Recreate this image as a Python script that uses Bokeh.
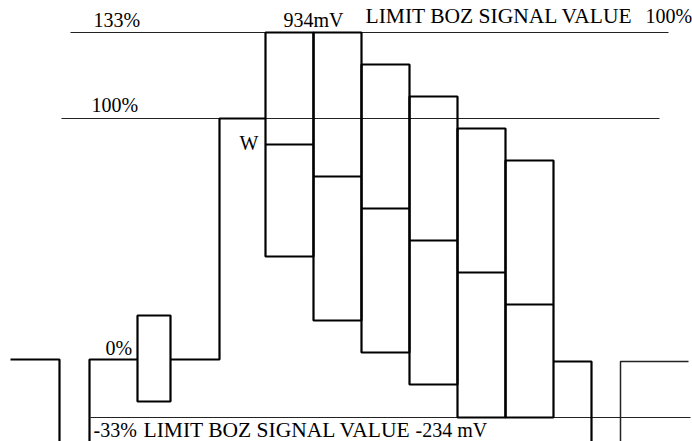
from bokeh.plotting import figure
from bokeh.models import Range1d, ColumnDataSource
from bokeh.core.properties import value
from bokeh.embed import file_html
from bokeh.resources import INLINE

# ---- data (x: time position, y: signal level) ----
box_edges = [265, 313, 361, 409, 457, 505, 553]
box_top = [409, 409, 377, 345, 313, 281]
box_mid = [297, 265, 233, 201, 169, 137]
box_bottom = [185, 121, 89, 57, 24, 24]

lvl_133 = 409
lvl_100 = 323
lvl_0 = 82
lvl_m33 = 24
lvl_low = 0

# small pulse box
pulse_x = [137, 170]
pulse_y = [40, 126]

# waveform segments (thick)
wave_xs = [[10, 59, 59], [89, 89, 137], [170, 219, 219, 265], [553, 591, 591]]
wave_ys = [[lvl_0, lvl_0, lvl_low], [lvl_low, lvl_0, lvl_0],
           [lvl_0, lvl_0, lvl_100, lvl_100], [80, 80, lvl_low]]
# thin tail
tail_x = [620, 620, 688]
tail_y = [lvl_low, 80, 80]

# reference lines: (x start, x end, level)
ref_x0 = [70, 61, 90]
ref_x1 = [668, 659, 690]
ref_lvl = [lvl_133, lvl_100, lvl_m33]

# labels
small_labels = ["133%", "934mV", "100%", "100%", "W", "0%", "-33%", "-234 mV"]
small_x = [93, 283, 645, 91, 239, 105, 93, 415]
small_y = [lvl_133 + 4, lvl_133 + 4, lvl_133 + 8, lvl_100 + 5, 290, lvl_0 + 3, 3, 3]
big_labels = ["LIMIT BOZ SIGNAL VALUE", "LIMIT BOZ SIGNAL VALUE"]
big_x = [365, 143]
big_y = [lvl_133 + 8, 3]

TEXT_SHIFT = 9  # compensates renderer baseline offset

p = figure(width=692, height=441, output_backend="svg", toolbar_location=None,
           x_range=Range1d(0, 692), y_range=Range1d(0, 441), min_border=0,
           background_fill_color="white", border_fill_color="white")
p.outline_line_color = None
p.axis.visible = False
p.xgrid.visible = False
p.ygrid.visible = False

# reference lines
p.segment(x0=ref_x0, x1=ref_x1, y0=ref_lvl, y1=ref_lvl, line_color="#222222", line_width=1.2)

# waveform
p.multi_line(xs=wave_xs, ys=wave_ys, line_color="black", line_width=2.2)
p.line(tail_x, tail_y, line_color="#222222", line_width=1.5)

# pulse box
p.quad(left=[pulse_x[0]], right=[pulse_x[1]], bottom=[pulse_y[0]], top=[pulse_y[1]],
       fill_color=None, line_color="black", line_width=2.2)

# big boxes
src = ColumnDataSource(dict(left=box_edges[:-1], right=box_edges[1:], top=box_top,
                            bottom=box_bottom, mid=box_mid))
p.quad(left="left", right="right", top="top", bottom="bottom", source=src,
       fill_color=None, line_color="black", line_width=2.2)
p.segment(x0="left", x1="right", y0="mid", y1="mid", source=src,
          line_color="black", line_width=2.2)

# labels
p.text(x=small_x, y=[v + TEXT_SHIFT for v in small_y], text=small_labels,
       text_font=value("Liberation Serif"),
       text_font_size=value("20px"), text_color="black", text_baseline="alphabetic",
       text_align="left")
p.text(x=big_x, y=[v + TEXT_SHIFT for v in big_y], text=big_labels,
       text_font=value("Liberation Serif"),
       text_font_size=value("21.5px"), text_color="black", text_baseline="alphabetic",
       text_align="left")

open("out.html", "w").write(file_html(p, INLINE))
